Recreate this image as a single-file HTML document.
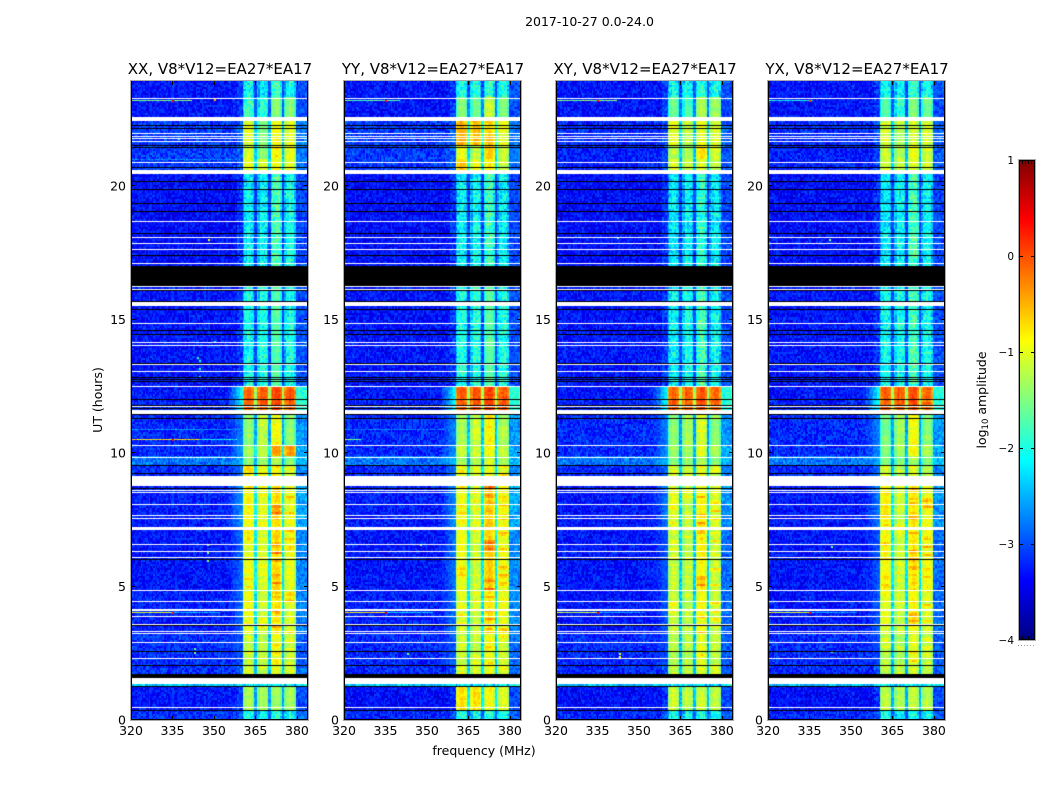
<!DOCTYPE html>
<html>
<head>
<meta charset="utf-8">
<title>2017-10-27 0.0-24.0</title>
<style>
html,body{margin:0;padding:0;background:#fff;}
#figure{position:relative;width:1050px;height:800px;overflow:hidden;background:#fff;}
canvas{position:absolute;display:block;}
svg{position:absolute;left:0;top:0;}
text{font-family:"DejaVu Sans","Liberation Sans",sans-serif;fill:#000;}
</style>
</head>
<body>
<div id="figure">
<canvas id="c0" width="177" height="639" style="left:131px;top:81px"></canvas>
<canvas id="c1" width="177" height="639" style="left:344px;top:81px"></canvas>
<canvas id="c2" width="177" height="639" style="left:556px;top:81px"></canvas>
<canvas id="c3" width="177" height="639" style="left:768px;top:81px"></canvas>
<svg id="overlay" width="1050" height="800" xmlns="http://www.w3.org/2000/svg">
<defs><linearGradient id="jetGrad" x1="0" y1="1" x2="0" y2="0"></linearGradient></defs>
<text x="589.5" y="26" text-anchor="middle" font-size="12.5">2017-10-27 0.0-24.0</text>
<text transform="translate(102,400) rotate(-90)" text-anchor="middle" font-size="12.5">UT (hours)</text>
<text x="484" y="755" text-anchor="middle" font-size="12.5">frequency (MHz)</text>
<text transform="translate(986,400) rotate(-90)" text-anchor="middle" font-size="12.5">log<tspan font-size="8.5" dy="2">10</tspan><tspan dy="-2"> amplitude</tspan></text>
</svg>
</div>
<script>
// ---------- chart data ----------
const panelTitles = ["XX, V8*V12=EA27*EA17","YY, V8*V12=EA27*EA17","XY, V8*V12=EA27*EA17","YX, V8*V12=EA27*EA17"];
const xTickLabels = [320,335,350,365,380];
const yTickLabels = [0,5,10,15,20];
const colorbarTicks = [-4,-3,-2,-1,0,1];
const bandStartMHz = [360.5,365.6,370.3,375.3];
const bandEndMHz = [364.7,369.6,374.7,379.7];
const bandShape = [
  [-0.4,-0.02,0.12,0.1,0.0,-0.25],
  [-0.3,0.08,0.14,0.02,0.04,-0.25],
  [-0.3,0.02,0.12,0.12,0.06,-0.25],
  [-0.35,0.0,0.12,0.14,0.06,-0.3]
];
// start hour of each time segment
const segmentStartHour = [0,0.35,1.27,1.33,2.05,3.2,4.85,7.15,8.75,9.5,9.9,10.3,11.45,12.0,12.55,16.1,17,20.45,21.0,21.55,22.45,23.3];
// how strongly narrow bright rows stand out in each segment
const stripeStrength = [0,0,0,0.3,0.5,0.85,0.85,0.85,0.5,0,0,0.15,0,0,0,0,0,0.1,0.15,0.1,0,0];
// per segment: background, band 1-4, shoulder below the band (0 = none); log10 amplitude
const levelsXX = [
[-3.15,-2.1,-2.15,-2.05,-2.1,0],[-3.3,-1.35,-1.35,-1.4,-1.35,0],[-2.4,-2.2,-2.2,-2.2,-2.2,0],[-3.15,-1.2,-1.2,-1.1,-1.2,0],
[-3.15,-1.25,-1.25,-1.05,-1.2,-3.0],[-3.25,-1.05,-1.15,-0.85,-1.1,-2.8],[-3.3,-1.05,-1.1,-0.75,-1.05,-2.8],[-3.25,-0.95,-1.05,-0.75,-1.0,-2.6],
[-3.2,-0.85,-0.95,-0.95,-1.15,-2.8],[-2.8,-1.5,-1.4,-1.35,-1.5,-2.5],[-3.2,-1.4,-1.25,-0.45,-0.45,-2.6],[-3.2,-1.5,-1.25,-1.0,-1.5,-2.7],
[-3.25,-0.2,-0.1,-0.05,-0.15,-2.0],[-3.3,-0.2,-0.1,-0.05,-0.15,-2.0],[-3.3,-2.12,-2.02,-1.77,-2.07,0],[-3.3,-2.12,-2.02,-1.77,-2.07,0],
[-3.35,-2.25,-2.2,-1.85,-2.1,0],[-3.1,-1.05,-1.15,-1.0,-1.1,0],[-3.1,-1.15,-1.5,-0.9,-1.05,0],[-3.1,-1.1,-1.5,-1.0,-1.1,0],
[-3.3,-1.9,-1.95,-1.55,-1.5,0],[-3.3,-2.15,-2.25,-1.9,-2.1,0]];
const levelsYY = [
[-3.2,-2.05,-2.1,-2.0,-2.05,0],[-3.35,-0.8,-0.8,-1.0,-1.1,0],[-2.4,-2.2,-2.2,-2.2,-2.2,0],[-3.2,-1.1,-1.1,-1.0,-1.1,0],
[-3.2,-1.2,-1.2,-1.0,-1.15,-2.9],[-3.25,-1.1,-1.15,-0.85,-1.0,-2.75],[-3.3,-1.0,-1.15,-0.7,-1.0,-2.75],[-3.25,-1.0,-1.1,-0.7,-0.95,-2.6],
[-3.2,-1.0,-1.05,-1.0,-1.1,-2.8],[-2.8,-1.35,-1.35,-1.15,-1.35,-2.5],[-3.2,-1.2,-1.15,-0.95,-1.2,-2.6],[-3.2,-1.35,-1.15,-0.95,-1.35,-2.7],
[-3.25,-0.15,-0.1,0,-0.1,-2.0],[-3.3,-0.15,-0.1,0,-0.1,-2.0],[-3.3,-2.05,-2.0,-1.75,-2.05,0],[-3.3,-2.05,-2.0,-1.75,-2.05,0],
[-3.35,-2.2,-2.15,-1.9,-2.2,0],[-3.1,-0.75,-0.95,-0.9,-1.25,0],[-3.1,-1.0,-1.25,-0.7,-1.2,0],[-3.1,-0.55,-0.6,-0.75,-1.05,0],
[-3.3,-1.55,-1.6,-1.2,-1.55,0],[-3.3,-2.05,-2.05,-1.95,-2.05,0]];
const levelsXY = [
[-3.2,-2.1,-2.15,-2.05,-2.1,0],[-3.35,-1.2,-1.25,-1.2,-1.25,0],[-2.4,-2.2,-2.2,-2.2,-2.2,0],[-3.2,-1.25,-1.25,-1.15,-1.25,0],
[-3.2,-1.3,-1.3,-1.1,-1.25,-3.0],[-3.3,-1.2,-1.25,-1.0,-1.2,-2.9],[-3.3,-1.2,-1.25,-0.95,-1.2,-2.9],[-3.3,-1.1,-1.2,-0.95,-1.1,-2.7],
[-3.2,-1.15,-1.2,-1.1,-1.25,-2.8],[-2.8,-1.5,-1.45,-1.35,-1.5,-2.5],[-3.2,-1.4,-1.35,-1.1,-1.35,-2.6],[-3.2,-1.5,-1.35,-1.15,-1.5,-2.7],
[-3.25,-0.2,-0.15,-0.1,-0.2,-2.0],[-3.3,-0.2,-0.15,-0.1,-0.2,-2.0],[-3.3,-2.2,-2.1,-1.9,-2.15,0],[-3.3,-2.2,-2.1,-1.9,-2.15,0],
[-3.35,-2.3,-2.2,-2.0,-2.25,0],[-3.25,-1.1,-1.2,-1.1,-1.3,0],[-3.25,-1.3,-1.35,-0.85,-1.15,0],[-3.2,-1.05,-1.25,-1.1,-1.15,0],
[-3.3,-1.65,-1.8,-1.35,-1.4,0],[-3.3,-2.15,-2.15,-2.0,-2.1,0]];
const levelsYX = [
[-3.2,-2.1,-2.15,-2.05,-2.1,0],[-3.35,-1.25,-1.3,-1.25,-1.3,0],[-2.4,-2.2,-2.2,-2.2,-2.2,0],[-3.2,-1.25,-1.25,-1.15,-1.25,0],
[-3.2,-1.25,-1.3,-1.1,-1.25,-3.0],[-3.3,-1.05,-1.2,-0.95,-1.1,-2.9],[-3.3,-0.95,-1.15,-0.85,-1.0,-2.9],[-3.3,-0.9,-1.15,-0.85,-1.0,-2.7],
[-3.2,-1.1,-1.3,-1.15,-1.3,-2.8],[-2.8,-1.55,-1.5,-1.4,-1.5,-2.5],[-3.2,-1.5,-1.35,-1.0,-1.35,-2.6],[-3.2,-1.6,-1.35,-1.0,-1.5,-2.7],
[-3.25,-0.15,-0.15,-0.05,-0.2,-2.0],[-3.3,-0.15,-0.15,-0.05,-0.2,-2.0],[-3.3,-2.15,-2.05,-1.85,-2.1,0],[-3.3,-2.15,-2.05,-1.85,-2.1,0],
[-3.35,-2.25,-2.15,-1.85,-2.15,0],[-3.25,-1.15,-1.2,-1.15,-1.2,0],[-3.25,-1.2,-1.3,-1.1,-1.2,0],[-3.2,-1.15,-1.3,-1.15,-1.15,0],
[-3.3,-1.8,-1.9,-1.55,-1.65,0],[-3.3,-2.15,-2.2,-1.95,-2.1,0]];
// flagged (no data) hour ranges, drawn white
const blankHours = [[0.45,0.49],[1.33,1.57],[2.28,2.32],[2.88,2.92],[3.22,3.26],[3.30,3.33],[3.56,3.60],[3.86,3.90],[4.10,4.14],[4.42,4.46],[4.83,4.87],[6.05,6.09],[6.29,6.33],[6.55,6.59],[7.12,7.21],[7.55,7.58],[7.64,7.68],[8.05,8.09],[8.50,8.54],[8.58,8.61],[8.76,9.12],[9.81,9.85],[10.26,10.30],[11.46,11.61],[11.72,11.76],[12.47,12.51],[13.03,13.07],[13.30,13.33],[14.01,14.04],[14.12,14.16],[14.83,14.87],[15.49,15.64],[16.12,16.16],[16.20,16.24],[17.08,17.12],[17.60,17.64],[17.83,17.87],[18.05,18.09],[18.65,18.69],[20.45,20.60],[20.86,20.90],[21.65,21.68],[21.76,21.80],[21.85,21.89],[21.95,21.99],[22.43,22.60],[23.26,23.30]];
// zero-amplitude hour ranges, drawn black
const zeroHours = [[0.34,0.37],[1.24,1.27],[1.59,1.72],[2.02,2.06],[2.53,2.57],[3.52,3.56],[5.99,6.03],[8.65,8.69],[9.21,9.25],[9.51,9.55],[11.27,11.31],[11.42,11.46],[11.65,11.69],[11.76,11.80],[11.99,12.02],[12.66,12.70],[12.74,12.78],[12.81,12.85],[13.33,13.37],[14.42,14.46],[14.57,14.61],[15.36,15.39],[15.68,15.71],[16.05,16.10],[16.27,17.0],[17.38,17.42],[18.20,18.24],[19.03,19.06],[19.33,19.36],[19.85,19.89],[20.15,20.19],[20.67,20.71],[21.42,21.46],[21.50,21.54],[22.13,22.17],[22.26,22.30]];
// narrow-band interference: panel, hour, start MHz, end MHz, level
const rfiLines = [
[0,23.22,320,342,-1.5],[1,23.22,320,340,-1.7],[2,23.22,320,342,-1.5],[3,23.22,320,336,-2.1],
[0,10.52,320,345,-0.8],[0,10.52,345,358,-2.1],[1,10.52,320,326,-1.5],
[0,4.06,320,335,-1.0],[1,4.06,320,335,-0.8],[2,4.06,320,335,-1.2],[3,4.06,320,335,-1.1],
[0,4.06,335,352,-2.5],[1,4.06,335,352,-2.4],[2,4.06,335,352,-2.6],[3,4.06,335,352,-2.6],
[0,21.0,320,360,-2.75],[0,10.9,320,360,-2.7],[1,10.9,320,360,-2.8]
];
// isolated bright pixels: panel, hour, MHz, level
const rfiPoints = [
[0,23.22,335,0.4],[1,23.22,335,0.3],[2,23.22,335,0.4],[3,23.22,335,0.1],[0,23.24,350,-0.5],
[0,10.52,335,0.4],[0,4.06,335,0.3],[1,4.06,335,0.6],[2,4.06,335,0.4],[3,4.06,335,0.4],
[0,5.98,347.6,-1.4],[0,6.6,347.6,-1.5],[0,6.3,347.6,-1.5],[0,2.7,342.6,-1.6],[0,2.55,342.6,-1.5],
[1,6.6,347.6,-1.5],[1,2.5,342.6,-1.5],[2,2.5,342.6,-0.9],[2,2.4,342.6,-0.9],[3,2.6,342.6,-1.4],[3,6.5,342.6,-1.6],
[0,14.2,350,-1.9],[0,13.6,344,-1.8],[0,13.2,344.6,-1.9],[0,12.9,344.6,-1.9],[0,13.5,344.6,-2.0],
[0,18.0,348,-0.9],[2,18.1,342,-1.5],[3,18.0,342,-1.5],[0,21.8,337,-1.8]
];
// hand-typed speckle table, log10 units relative to the local level
const speckle = [
0.31,-0.72,0.58,-0.14,0.87,-0.45,0.09,-0.93,0.66,0.22,-0.38,0.74,-0.61,0.12,-0.27,0.95,-0.83,0.41,-0.06,-0.54,
0.63,-0.19,0.28,-0.77,0.52,-0.34,0.83,-0.11,-0.66,0.37,0.05,-0.89,0.71,-0.42,0.18,0.49,-0.58,0.92,-0.24,-0.03,
-0.71,0.35,0.61,-0.47,0.15,-0.86,0.78,0.26,-0.31,0.55,-0.96,0.44,-0.17,0.68,0.02,-0.52,0.81,-0.37,0.23,-0.64,
0.47,-0.08,-0.79,0.57,0.33,-0.22,0.89,-0.59,0.11,-0.41,0.73,-0.13,0.39,-0.84,0.64,-0.29,0.07,0.51,-0.69,0.97,
-0.48,0.19,-0.04,0.76,-0.56,0.29,-0.91,0.43,0.59,-0.21,-0.74,0.85,-0.33,0.13,0.67,-0.62,0.25,-0.16,-0.44,0.53,-0.81];

// ---------- scales ----------
const panelLevels = [levelsXX,levelsYY,levelsXY,levelsYX];
const panelLeft = [131,344,556,768];
const plotTop = 81, plotBottom = 720, plotWidth = 177;
const freqMin = 320, freqMax = 384, hourMax = (plotBottom-plotTop)/26.7;
const channelCount = 128, rowCount = 320;
function xScale(f){return (f-freqMin)/(freqMax-freqMin)*plotWidth;}
function yScale(h){return (hourMax-h)*26.7;}
function clamp01(v){return v<0?0:v>1?1:v;}
function jet(v){
  const t=clamp01((v+4)/5);
  const r=clamp01(1.5-Math.abs(4*t-3)), g=clamp01(1.5-Math.abs(4*t-2)), b=clamp01(1.5-Math.abs(4*t-1));
  return 'rgb('+Math.round(r*255)+','+Math.round(g*255)+','+Math.round(b*255)+')';
}
function segmentAt(h){
  let i=0;
  while(i+1<segmentStartHour.length && segmentStartHour[i+1]<=h) i++;
  return i;
}
function cellValue(p,r,c,h,f){
  const seg=segmentAt(h);
  const row=panelLevels[p][seg];
  const bg=row[0], leak=row[5];
  const n=speckle[(r*r*7+c*c*3+r*c*5+r*13+c*29+p*37)%speckle.length];
  const mean=(row[1]+row[2]+row[3]+row[4])/4;
  for(let k=0;k<4;k++){
    if(f>=bandStartMHz[k] && f<bandEndMHz[k]){
      const lvl=row[k+1];
      let s=bandShape[k][Math.floor((f-bandStartMHz[k])/(bandEndMHz[k]-bandStartMHz[k])*6)];
      if(lvl>-1.5 && s<0) s*=0.6;
      const rowTerm=speckle[(r*17+k*41+p*3)%speckle.length];
      const hot=Math.max(0,rowTerm-0.45)*(k>=2?1.0:0.45)*stripeStrength[seg];
      return lvl+s+hot+rowTerm*0.07+n*(lvl<-1.8?0.36:lvl<-1.3?0.12:0.16);
    }
  }
  if(f>=bandStartMHz[0] && f<bandEndMHz[3]) return Math.max(bg+0.3,mean-1.2)+n*0.22;
  if(f>=bandEndMHz[3]){
    const tail=leak?leak+0.05:bg+0.3;
    return tail+n*0.28;
  }
  if(leak && f>354){
    const u=(f-354)/(bandStartMHz[0]-354);
    return bg+(leak-bg)*Math.pow(u,1.3)+n*(0.3-0.15*u);
  }
  if(f>358.5) return bg+0.2+n*0.3;
  return bg+n*0.33;
}
function hourRect(ctx,range,color){
  const y0=Math.round(yScale(range[1])), y1=Math.round(yScale(range[0]));
  ctx.fillStyle=color;
  ctx.fillRect(0,y0,plotWidth,Math.max(1,y1-y0));
}
// ---------- heatmaps ----------
panelLevels.forEach(function(_,p){
  const ctx=document.getElementById('c'+p).getContext('2d');
  const rowH=24/rowCount, chanW=(freqMax-freqMin)/channelCount;
  for(let r=0;r<rowCount;r++){
    const h=(r+0.5)*rowH;
    if(h>hourMax+rowH) break;
    const y0=Math.round(yScale(r*rowH+rowH)), y1=Math.round(yScale(r*rowH));
    for(let c=0;c<channelCount;c++){
      const f=freqMin+(c+0.5)*chanW;
      const x0=Math.round(xScale(freqMin+c*chanW)), x1=Math.round(xScale(freqMin+(c+1)*chanW));
      ctx.fillStyle=jet(cellValue(p,r,c,h,f));
      ctx.fillRect(x0,y0,x1-x0,y1-y0);
    }
  }
  rfiLines.forEach(function(l){
    if(l[0]!==p) return;
    for(let f=l[2];f<l[3];f+=chanW){
      ctx.fillStyle=jet(l[4]+speckle[Math.round(f*2)%speckle.length]*0.4);
      ctx.fillRect(Math.round(xScale(f)),Math.round(yScale(l[1])),2,1);
    }
  });
  rfiPoints.forEach(function(s){
    if(s[0]!==p) return;
    ctx.fillStyle=jet(s[3]);
    ctx.fillRect(Math.round(xScale(s[2])),Math.round(yScale(s[1])),2,2);
  });
  zeroHours.forEach(function(z){hourRect(ctx,z,'#000');});
  blankHours.forEach(function(b){hourRect(ctx,b,'#fff');});
});
// ---------- axes ----------
const SVGNS='http://www.w3.org/2000/svg';
const overlay=document.getElementById('overlay');
function addLine(x1,y1,x2,y2,color,name){
  const el=document.createElementNS(SVGNS,'line');
  el.setAttribute('x1',x1);el.setAttribute('y1',y1);el.setAttribute('x2',x2);el.setAttribute('y2',y2);
  el.setAttribute('stroke',color);el.setAttribute('stroke-width','1');
  
  
  overlay.appendChild(el);
  return el;
}
function addText(str,x,y,anchor,size,name){
  const el=document.createElementNS(SVGNS,'text');
  el.setAttribute('x',x);el.setAttribute('y',y);el.setAttribute('text-anchor',anchor);el.setAttribute('font-size',size);
  el.textContent=str;
  
  
  overlay.appendChild(el);
  return el;
}
function addFrame(x,y,w,h,name){
  const outer=document.createElementNS(SVGNS,'rect');
  outer.setAttribute('x',x-0.5);outer.setAttribute('y',y-0.5);outer.setAttribute('width',w+1);outer.setAttribute('height',h+1);
  outer.setAttribute('fill','none');outer.setAttribute('stroke','#aaa');outer.setAttribute('stroke-width','1');
  
  
  overlay.appendChild(outer);
}
panelTitles.forEach(function(title,p){
  const x0=panelLeft[p];
  addFrame(x0,plotTop,plotWidth,plotBottom-plotTop,'panel-frame');
  addText(title,x0+plotWidth/2+0.5,74,'middle',15,'panel-title');
  addLine(x0+0.5,plotTop,x0+0.5,plotBottom,'#000','panel-left-edge');
  addLine(x0,plotBottom-0.5,x0+plotWidth,plotBottom-0.5,'#000','panel-bottom-edge');
  addLine(x0+plotWidth-0.5,plotTop,x0+plotWidth-0.5,plotBottom,'#000','panel-right-edge');
  xTickLabels.forEach(function(t){
    const x=Math.round(x0+xScale(t))+0.5;
    addLine(x,plotBottom-4,x,plotBottom,'#000','x-tick-bottom');
    addLine(x,plotTop,x,plotTop+4,'#000','x-tick-top');
    addText(String(t),x0+xScale(t),735,'middle',12.5,'x-tick-label');
  });
  yTickLabels.forEach(function(t){
    const y=Math.round(plotTop+yScale(t))-0.5;
    addLine(x0,y,x0+4,y,'#000','y-tick-left');
    addLine(x0+plotWidth-4,y,x0+plotWidth,y,'#000','y-tick-right');
    addText(String(t),x0-5,plotTop+yScale(t)+4.5,'end',12.5,'y-tick-label');
  });
});
// ---------- colorbar ----------
const grad=document.getElementById('jetGrad');
for(let i=0;i<=64;i++){
  const st=document.createElementNS(SVGNS,'stop');
  st.setAttribute('offset',(i/64));
  st.setAttribute('stop-color',jet(-4+5*i/64));
  grad.appendChild(st);
}
const cbLeft=1019, cbTop=160, cbW=16, cbH=480;
function cbY(v){return cbTop+(1-(v+4)/5)*cbH;}
const cbRect=document.createElementNS(SVGNS,'rect');
cbRect.setAttribute('x',cbLeft);cbRect.setAttribute('y',cbTop);cbRect.setAttribute('width',cbW);cbRect.setAttribute('height',cbH);
cbRect.setAttribute('fill','url(#jetGrad)');


overlay.appendChild(cbRect);
addFrame(cbLeft,cbTop,cbW,cbH,'colorbar-frame');
addLine(cbLeft+0.5,cbTop,cbLeft+0.5,cbTop+cbH,'#000','colorbar-left-edge');
addLine(cbLeft+cbW-0.5,cbTop,cbLeft+cbW-0.5,cbTop+cbH,'#000','colorbar-right-edge');
addLine(cbLeft,cbTop+0.5,cbLeft+cbW,cbTop+0.5,'#000','colorbar-top-edge');
addLine(cbLeft,cbTop+cbH-0.5,cbLeft+cbW,cbTop+cbH-0.5,'#000','colorbar-bottom-edge');
colorbarTicks.forEach(function(t){
  const y=Math.min(Math.round(cbY(t))+0.5,cbTop+cbH-0.5);
  addLine(cbLeft,y,cbLeft+4,y,'#000','colorbar-tick-left');
  addLine(cbLeft+cbW-4,y,cbLeft+cbW,y,'#000','colorbar-tick-right');
  addText((t<0?'\u2212':'')+Math.abs(t),1014,cbY(t)+4,'end',10.5,'colorbar-tick-label');
});
[3,6,9,12].forEach(function(dx){
  addLine(cbLeft+dx+0.5,cbTop,cbLeft+dx+0.5,cbTop+4,'#000','colorbar-top-minor-tick');
  addLine(cbLeft+dx+0.5,cbTop+cbH-4,cbLeft+dx+0.5,cbTop+cbH,'#000','colorbar-bottom-minor-tick');
});
const dots=addLine(1018,645.5,1035,645.5,'#999','colorbar-dotted-mark');
dots.setAttribute('stroke-dasharray','1 2');
</script>
</body>
</html>
